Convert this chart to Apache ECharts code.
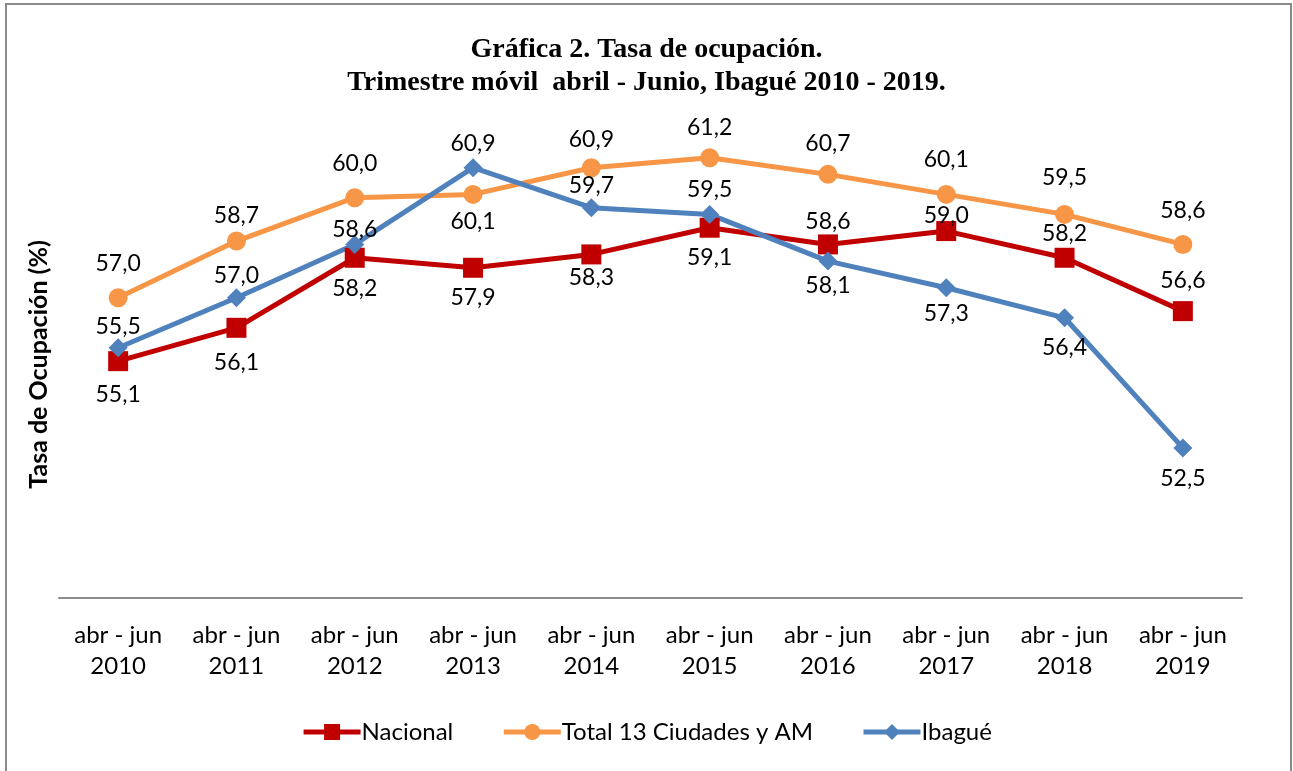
<!DOCTYPE html>
<html>
<head>
<meta charset="utf-8">
<script src="https://cdn.jsdelivr.net/npm/echarts@6/dist/echarts.min.js"></script>
<style>
  html, body { margin: 0; padding: 0; background: #fff; }
  #main { width: 1293px; height: 771px; }
</style>
</head>
<body>
<div id="main"></div>
<script>
// datos
var categorias = ['abr - jun\n2010', 'abr - jun\n2011', 'abr - jun\n2012', 'abr - jun\n2013', 'abr - jun\n2014',
    'abr - jun\n2015', 'abr - jun\n2016', 'abr - jun\n2017', 'abr - jun\n2018', 'abr - jun\n2019'];
var nacional = [55.1, 56.1, 58.2, 57.9, 58.3, 59.1, 58.6, 59.0, 58.2, 56.6];
var total13 = [57.0, 58.7, 60.0, 60.1, 60.9, 61.2, 60.7, 60.1, 59.5, 58.6];
var ibague = [55.5, 57.0, 58.6, 60.9, 59.7, 59.5, 58.1, 57.3, 56.4, 52.5];

// desplazamiento vertical de cada etiqueta (px)
var nacionalDy = [33, 35, 31, 30, 23, 30, -23, -15, -24, -31];
var total13Dy = [-34, -26, -34, 27, -28, -30, -31, -35, -37, -34];
var ibagueDy = [-21, -22, -15, -24, -22, -25, 24, 26, 30, 31];

var fuente = 'Lato, "Liberation Sans", sans-serif';

function fmt(v) {
    return v.toFixed(1).replace('.', ',');
}

function armarSerie(nombre, valores, dy, color, simbolo, tam) {
    var datos = [];
    for (var i = 0; i < valores.length; i++) {
        datos.push({
            value: valores[i],
            label: {offset: [0, dy[i]]}
        });
    }
    return {
        name: nombre,
        type: 'line',
        data: datos,
        symbol: simbolo,
        symbolSize: tam,
        showAllSymbol: true,
        lineStyle: {color: color, width: 5},
        itemStyle: {color: color},
        label: {
            show: true,
            position: 'inside',
            color: '#000',
            fontSize: 23,
            fontFamily: fuente,
            formatter: function (p) { return fmt(p.value); }
        },
        z: 2
    };
}

var option = {
    animation: false,
    backgroundColor: '#fff',
    title: {
        text: 'Gráfica 2. Tasa de ocupación.\nTrimestre móvil  abril - Junio, Ibagué 2010 - 2019.',
        left: 'center',
        top: 28,
        textStyle: {
            fontFamily: '"Liberation Serif", "Times New Roman", serif',
            fontWeight: 'bold',
            fontSize: 28,
            lineHeight: 33,
            color: '#000'
        }
    },
    legend: {
        bottom: 22,
        left: 'center',
        itemWidth: 57,
        itemHeight: 20,
        itemGap: 48,
        lineStyle: {width: 5},
        textStyle: {fontSize: 24, fontFamily: fuente, color: '#000', padding: [0, 0, 0, -4]},
        data: ['Nacional', 'Total 13 Ciudades y AM', 'Ibagué']
    },
    grid: {left: 59, right: 51, top: 131, bottom: 173},
    xAxis: {
        type: 'category',
        data: categorias,
        boundaryGap: true,
        axisLine: {lineStyle: {color: '#8c8c8c', width: 2}},
        axisTick: {show: false},
        axisLabel: {
            color: '#000',
            fontSize: 24,
            fontFamily: fuente,
            lineHeight: 31,
            margin: 22
        }
    },
    yAxis: {
        type: 'value',
        min: 48,
        max: 62,
        interval: 2,
        name: 'Tasa de Ocupación (%)',
        nameLocation: 'middle',
        nameRotate: 90,
        nameGap: 8,
        nameTextStyle: {fontSize: 25, fontWeight: 'bold', fontFamily: fuente, color: '#000'},
        axisLine: {show: false},
        axisTick: {show: false},
        axisLabel: {show: false},
        splitLine: {show: false}
    },
    graphic: [{
        type: 'rect',
        shape: {x: 6, y: 4, width: 1285, height: 780},
        style: {fill: 'none', stroke: '#8a8a8a', lineWidth: 2},
        silent: true
    }],
    series: [
        armarSerie('Nacional', nacional, nacionalDy, '#C00000', 'rect', 20),
        armarSerie('Total 13 Ciudades y AM', total13, total13Dy, '#F79646', 'circle', 19),
        armarSerie('Ibagué', ibague, ibagueDy, '#4F81BD', 'diamond', 19)
    ]
};

var myChart = echarts.init(document.getElementById('main'));
myChart.setOption(option);
</script>
</body>
</html>
